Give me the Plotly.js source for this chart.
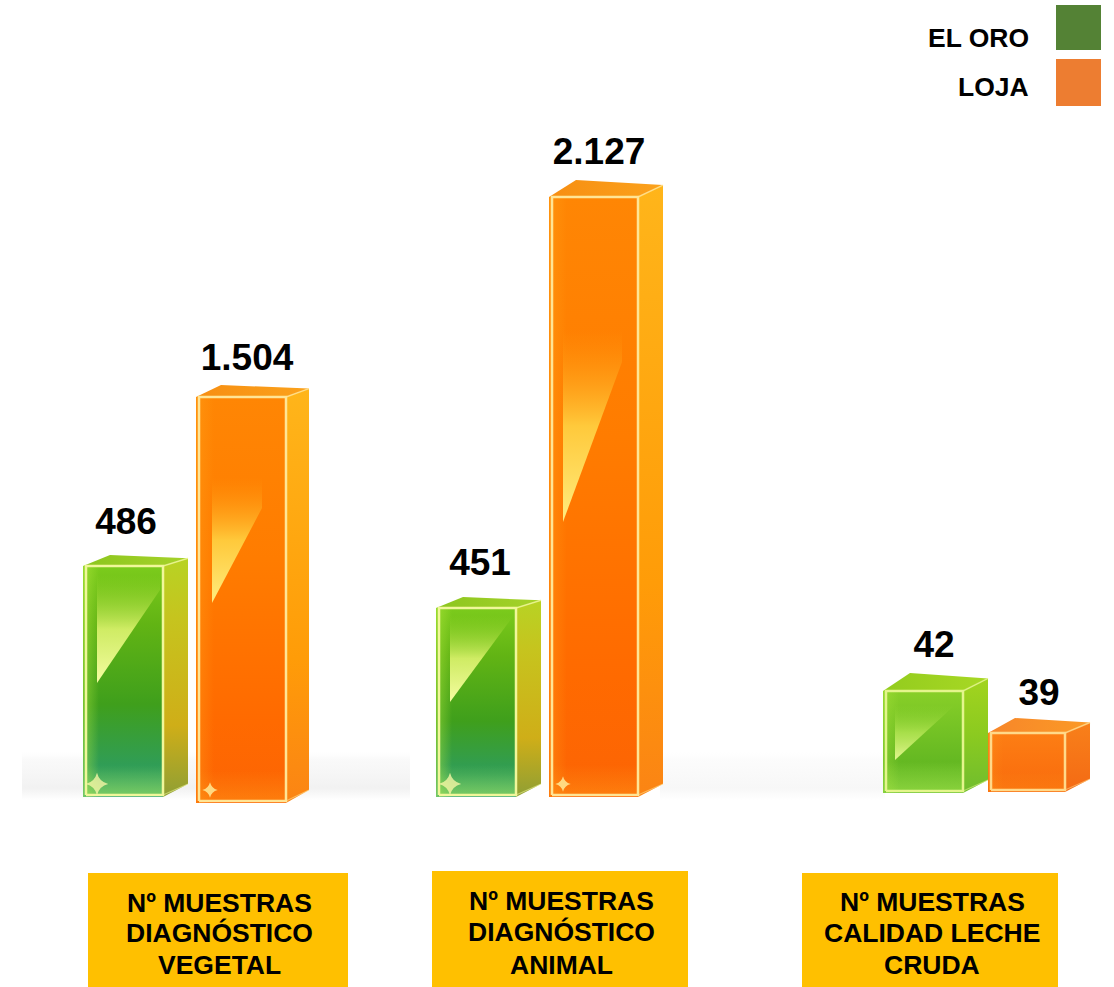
<!DOCTYPE html>
<html>
<head>
<meta charset="utf-8">
<script src="https://cdn.plot.ly/plotly-3.0.1.min.js"></script>
<style>html,body{margin:0;padding:0;background:#fff;overflow:hidden}#chart{width:1114px;height:987px}</style>
</head>
<body>
<div id="chart"></div>
<script>
// ---------- data ----------
const categoryLines = [
  ["Nº MUESTRAS", "DIAGNÓSTICO", "VEGETAL"],
  ["Nº MUESTRAS", "DIAGNÓSTICO", "ANIMAL"],
  ["Nº MUESTRAS", "CALIDAD LECHE", "CRUDA"]
];
const seriesNames = ["EL ORO", "LOJA"];
const elOroLabels = ["486", "451", "42"];
const lojaLabels = ["1.504", "2.127", "39"];
// The picture's bars are not to scale with their printed numbers, so drawn heights are read separately.
const elOroHeights = [231, 189, 102];
const lojaHeights = [406, 600, 59];

// ---------- layout geometry (separate from the data) ----------
const W = 1114, H = 987, BASE = 797;
const py = p => BASE - p;            // picture row -> axis value
const elOroLeft = [83, 436, 883],  elOroFront = [80, 80, 80],  elOroSide = [25, 25, 25];
const lojaLeft  = [196, 549, 988], lojaFront  = [90, 89, 77],  lojaSide  = [23, 25, 25];
const elOroBase = [0, 0, 4], lojaBase = [-6, 0, 5];
const elOroRise = [11, 11, 18], lojaRise = [12, 17, 15];
const elOroLabelPx = [[126, 525], [480, 566], [934, 648]];
const lojaLabelPx  = [[247, 361], [599, 155], [1039, 696]];
const elOroGlint = [[97,683,160,590,575],[450,702,514,615,615],[895,760,955,705,705]];
const lojaGlint  = [[212,603,262,508,478],[563,522,622,362,330],null];
const boxes = [[88,348,873],[432,688,871],[802,1058,873]];
const boxTextX = [219.5, 561, 932];
const boxLineY = [[903,933,965],[901,932,965],[902,933,965]];

const greenTall = {
  bar:"#4ea51c", top:"#8cc61e", topHi:"#a6d22a",
  side:[[0,"#8f9f34"],[0.3,"#cfae18"],[0.75,"#c6c41e"],[1,"#b7d324"]],
  front:[[0,"#3aa97c"],[0.12,"#2f9d5a"],[0.4,"#3f9f1c"],[0.75,"#62b414"],[1,"#7ccb1c"]],
  rim:"#f1f79a", glint:"rgba(250,255,165,0.98)", glintMid:"rgba(235,250,120,0.8)", glintTop:"rgba(170,225,50,0)",
  leftHi:"rgba(190,240,70,0.45)", spark:16
};
const greenShort = {
  bar:"#72c022", top:"#93cc1e", topHi:"#a8d824",
  side:[[0,"#6fbd2e"],[0.5,"#8bca20"],[1,"#a2d41e"]],
  front:[[0,"#70c438"],[0.3,"#64b822"],[1,"#88cf28"]],
  rim:"#e4f58c", glint:"rgba(235,250,150,0.95)", glintMid:"rgba(190,235,90,0.7)", glintTop:"rgba(150,215,50,0)",
  leftHi:"rgba(190,240,70,0.3)", spark:0
};
const orangeTall = {
  bar:"#fb7a02", top:"#f78e12", topHi:"#fba21c",
  side:[[0,"#fb8414"],[0.35,"#ff9c08"],[1,"#ffb51a"]],
  front:[[0,"#fc6404"],[0.2,"#ff6a00"],[0.6,"#ff7c00"],[1,"#ff8604"]],
  rim:"#ffe596", glint:"rgba(255,240,130,0.98)", glintMid:"rgba(255,215,70,0.85)", glintTop:"rgba(255,165,20,0)",
  leftHi:"rgba(255,170,30,0.35)", spark:11
};
const orangeShort = {
  bar:"#fb7412", top:"#f7862a", topHi:"#fb9a26",
  side:[[0,"#f46a14"],[1,"#f8801a"]],
  front:[[0,"#f96a0c"],[1,"#fd7e14"]],
  rim:"#ffd98a", glint:"", glintMid:"", glintTop:"",
  leftHi:"rgba(255,170,30,0.2)", spark:0
};
const elOroPalette = [greenTall, greenTall, greenShort];
const lojaPalette = [orangeTall, orangeTall, orangeShort];

const traces = [];
const poly = (xs, ys, grad, color) => {
  const t = {x:xs.concat(xs[0]), y:ys.concat(ys[0]), mode:"lines", line:{width:0}, fill:"toself",
             hoverinfo:"skip", showlegend:false, type:"scatter"};
  if (grad) t.fillgradient = grad; else t.fillcolor = color;
  traces.push(t);
};

// floor shadow streaks behind the bars
[[22,410,0.34],[660,885,0.2]].forEach(s => {
  poly([s[0],s[1],s[1],s[0]], [py(800),py(800),py(752),py(752)],
    {type:"vertical", colorscale:[[0,"rgba(215,215,215,0)"],[0.25,`rgba(215,215,215,${s[2]})`],[0.85,`rgba(232,232,232,${s[2]*0.7})`],[1,"rgba(240,240,240,0)"]]});
});

// real bars through the axes
const barTrace = (name, lefts, fronts, heights, bases, colors) => ({
  type:"bar", name, x:lefts.map((l,i)=>l+fronts[i]/2), y:heights, base:bases,
  width:fronts, marker:{color:colors.map(c=>c.bar), line:{width:0}}, hoverinfo:"skip", showlegend:false
});
traces.push(barTrace(seriesNames[0], elOroLeft, elOroFront, elOroHeights, elOroBase, elOroPalette));
traces.push(barTrace(seriesNames[1], lojaLeft, lojaFront, lojaHeights, lojaBase, lojaPalette));

function dress(lefts, fronts, sides, heights, bases, rises, glints, palette) {
  lefts.forEach((x0,i) => {
    const c = palette[i];
    const x1 = x0+fronts[i], x2 = x1+sides[i], b = bases[i], t = b+heights[i], r = rises[i];
    const drop = Math.min(13, heights[i]*0.3);
    poly([x1,x2,x2,x1],[t,t+r*0.7,b+drop,b], {type:"vertical", colorscale:c.side});
    poly([x0,x1,x2,x0+sides[i]+2],[t,t,t+r*0.7,t+r],
      {type:"horizontal", colorscale:[[0,c.top],[1,c.topHi]]});
    poly([x0,x1,x1,x0],[b,b,t,t],{type:"vertical", colorscale:c.front});
    const bandW = fronts[i]*0.2;
    poly([x0,x0+bandW,x0+bandW,x0],[b,b,t,t],
      {type:"horizontal", colorscale:[[0,c.leftHi],[1,c.leftHi.replace(/[\d.]+\)$/,"0)")]]});
    // lighter floor inside the prism
    poly([x0+3,x1-1,x1-1,x0+3],[b+3,b+3,b+Math.min(32,heights[i]*0.35),b+Math.min(32,heights[i]*0.35)],
      {type:"vertical", colorscale:[[0,c.leftHi],[1,c.leftHi.replace(/[\d.]+\)$/,"0)")]]});
    const g = glints[i];
    if (g) {
      poly([g[0],g[2],g[2],g[0]],[py(g[1]),py(g[3]),py(g[4]),py(g[4])],
        {type:"vertical", colorscale:[[0,c.glint],[0.5,c.glintMid],[1,c.glintTop]]});
    }
    traces.push({type:"scatter", mode:"lines", x:[x0+3,x1,x1,x0+3,x0+3], y:[b+2,b+2,t,t,b+2],
      line:{color:c.rim,width:2.5}, hoverinfo:"skip", showlegend:false});
    traces.push({type:"scatter", mode:"lines", x:[x1,x2], y:[t,t+r*0.7],
      line:{color:c.rim,width:1.5}, opacity:0.8, hoverinfo:"skip", showlegend:false});
    traces.push({type:"scatter", mode:"lines", x:[x1,x2], y:[b+2,b+drop],
      line:{color:c.rim,width:1.2}, opacity:0.55, hoverinfo:"skip", showlegend:false});
    if (c.spark) {
      traces.push({type:"scatter", mode:"markers", x:[x0+14], y:[b+13],
        marker:{symbol:"star-diamond", size:c.spark, color:"rgba(255,250,170,0.75)", line:{width:0}},
        hoverinfo:"skip", showlegend:false});
    }
  });
}
dress(elOroLeft, elOroFront, elOroSide, elOroHeights, elOroBase, elOroRise, elOroGlint, elOroPalette);
dress(lojaLeft, lojaFront, lojaSide, lojaHeights, lojaBase, lojaRise, lojaGlint, lojaPalette);

// value labels
traces.push({type:"scatter", mode:"text", showlegend:false, hoverinfo:"skip",
  x:elOroLabelPx.concat(lojaLabelPx).map(p=>p[0]),
  y:elOroLabelPx.concat(lojaLabelPx).map(p=>py(p[1])),
  text:elOroLabels.concat(lojaLabels), textposition:"middle center",
  textfont:{family:"Liberation Sans, Arial, sans-serif", size:37, color:"#000", weight:700}});

// category boxes and legend
const shapes = boxes.map(b => ({type:"rect", layer:"below", x0:b[0], x1:b[1], y0:py(H+2), y1:py(b[2]),
  fillcolor:"#FFC000", line:{width:0}}));
shapes.push({type:"rect", x0:1056, x1:1101, y0:py(50), y1:py(5), fillcolor:"#548235", line:{width:0}});
shapes.push({type:"rect", x0:1056, x1:1101, y0:py(106), y1:py(59), fillcolor:"#ED7D31", line:{width:0}});

const annFont = {family:"Liberation Sans, Arial, sans-serif", size:26.5, color:"#000", weight:700};
const annotations = [];
categoryLines.forEach((lines,i) => lines.forEach((txt,j) => annotations.push({
  x:boxTextX[i], y:py(boxLineY[i][j]), text:"<b>"+txt+"</b>", showarrow:false,
  xanchor:"center", yanchor:"middle", font:annFont})));
[[seriesNames[0],38],[seriesNames[1],87]].forEach(a => annotations.push({
  x:1031, y:py(a[1]), text:"<b>"+a[0]+"</b>", showarrow:false,
  xanchor:"right", yanchor:"middle", font:annFont}));

const layout = {
  width:W, height:H, margin:{l:0,r:0,t:0,b:0},
  paper_bgcolor:"#fff", plot_bgcolor:"#fff", showlegend:false, barmode:"overlay",
  xaxis:{range:[0,W], visible:false, fixedrange:true},
  yaxis:{range:[BASE-H,BASE], visible:false, fixedrange:true},
  shapes, annotations
};
Plotly.newPlot("chart", traces, layout, {displayModeBar:false, staticPlot:true});
</script>
</body>
</html>
